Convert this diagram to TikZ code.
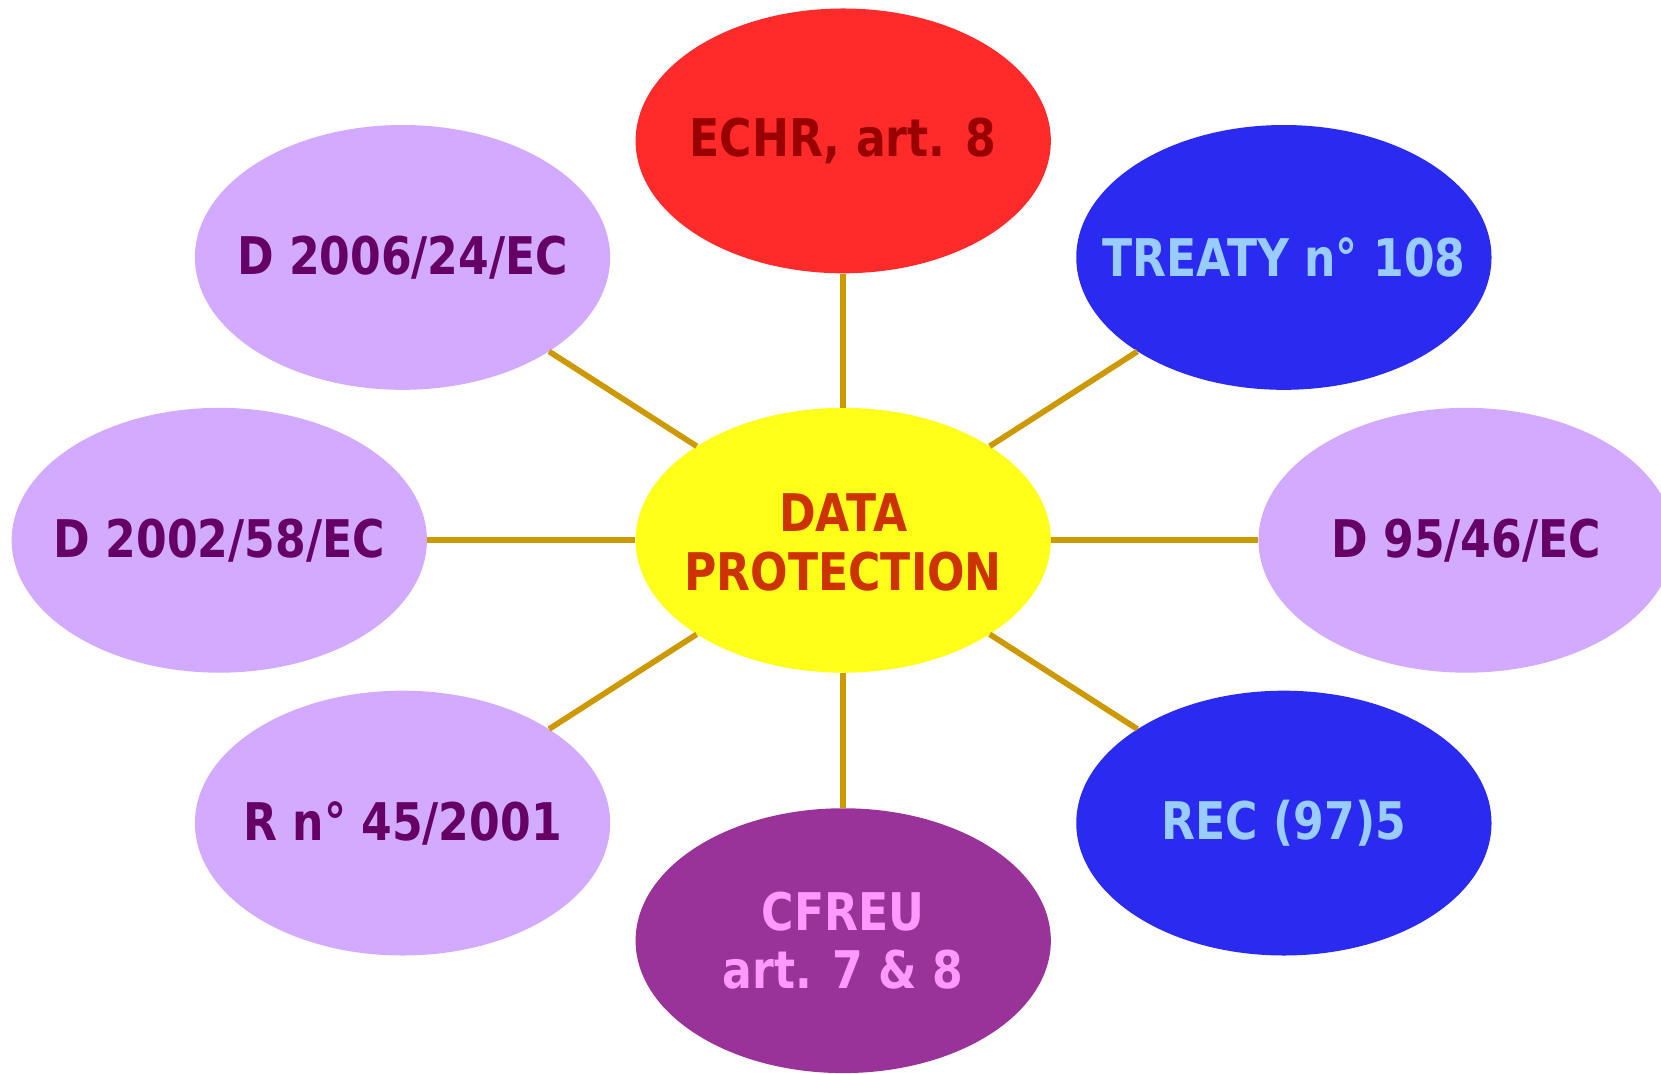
\documentclass[tikz,border=0pt]{standalone}
\usepackage{fontspec}
\usetikzlibrary{shapes.geometric}
\newfontfamily\lblfont{DejaVu Sans Bold}[FakeStretch=0.85]
\definecolor{cyel}{HTML}{FFFF1A}
\definecolor{cyeltxt}{HTML}{CC3300}
\definecolor{cred}{HTML}{FF2A2A}
\definecolor{credtxt}{HTML}{990000}
\definecolor{cblue}{HTML}{2A2AF0}
\definecolor{cbluetxt}{HTML}{99CCFF}
\definecolor{clav}{HTML}{D2AAFF}
\definecolor{clavtxt}{HTML}{660066}
\definecolor{cpur}{HTML}{993399}
\definecolor{cpurtxt}{HTML}{FF99FF}
\definecolor{cline}{HTML}{CC9900}
\tikzset{
  ell/.style={ellipse, draw=none, inner sep=0pt, minimum width=392pt, minimum height=250pt},
  txt/.style={font=\lblfont\fontsize{49}{55}\selectfont, align=center, inner sep=0pt},
  link/.style={draw=cline, line width=5.4pt}
}
\begin{document}
\begin{tikzpicture}[x=1pt,y=-1pt]
\useasboundingbox (0,0) rectangle (1568,1013);
\begin{scope}
\clip (0,0) rectangle (1568,1013);
\node[ell, fill=cyel, label={[txt, text=cyeltxt, yshift=-2pt]center:DATA\\PROTECTION}] (dp) at (796,510) {};
\node[ell, fill=cred, label={[txt, text=credtxt]center:ECHR, art. 8}] (echr) at (796,133) {};
\node[ell, fill=cblue, label={[txt, text=cbluetxt]center:TREATY n° 108}] (treaty) at (1212,243) {};
\node[ell, fill=clav, label={[txt, text=clavtxt]center:D 95/46/EC}] (d95) at (1384,510) {};
\node[ell, fill=cblue, label={[txt, text=cbluetxt]center:REC (97)5}] (rec) at (1212,777) {};
\node[ell, fill=cpur, label={[txt, text=cpurtxt]center:CFREU\\art. 7 \& 8}] (cfreu) at (796,888) {};
\node[ell, fill=clav, label={[txt, text=clavtxt]center:R n° 45/2001}] (r45) at (380,777) {};
\node[ell, fill=clav, label={[txt, text=clavtxt]center:D 2002/58/EC}] (d2002) at (207,510) {};
\node[ell, fill=clav, label={[txt, text=clavtxt]center:D 2006/24/EC}] (d2006) at (380,243) {};
\foreach \n in {echr,treaty,d95,rec,cfreu,r45,d2002,d2006}
  \draw[link] (dp) -- (\n);
\end{scope}
\end{tikzpicture}
\end{document}
